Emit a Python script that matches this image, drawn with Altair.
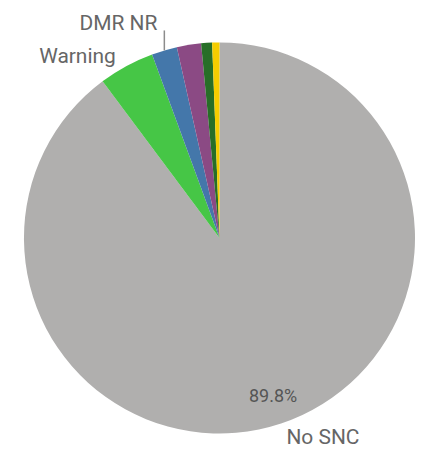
import altair as alt
import pandas as pd

categories = ["No SNC", "Warning", "DMR NR", "SNC", "RNC", "Undetermined"]
values = [89.8, 4.6, 2.1, 2.0, 0.9, 0.6]
colors = ["#b0afae", "#46c646", "#4477aa", "#8b4a84", "#276e27", "#f5cd00"]
order = list(range(len(categories)))

df = pd.DataFrame({"category": categories, "value": values, "ord": order})

CX, CY, R = 212, 230, 196
FONT = "Roboto"

pie = alt.Chart(df).mark_arc(radius=R, stroke=None).encode(
    theta=alt.Theta("value:Q", stack=True),
    order=alt.Order("ord:Q"),
    x=alt.value(CX), y=alt.value(CY),
    color=alt.Color("category:N", scale=alt.Scale(domain=categories, range=colors), legend=None),
)

# anchor points on the pie edge, computed from the data's cumulative angles
pos = alt.Chart(df).transform_joinaggregate(
    total="sum(value)"
).transform_window(
    cum="sum(value)", sort=[alt.SortField("ord")]
).transform_calculate(
    mid="(datum.cum - datum.value / 2) / datum.total * 2 * PI",
).transform_calculate(
    px=f"{CX} + {R} * sin(datum.mid)",
    py=f"{CY} - {R} * cos(datum.mid)",
    py2=f"{CY} - {R} * cos(datum.mid) - 20",
    pct="format(datum.value / datum.total * 100, '.1f') + '%'",
)


def label(cat, field, dx, dy, color="#666666", size=21):
    return pos.transform_filter(alt.datum.category == cat).mark_text(
        dx=dx, dy=dy, align="center", baseline="alphabetic",
        font=FONT, fontSize=size, color=color,
    ).encode(
        x=alt.X("px:Q", scale=None), y=alt.Y("py:Q", scale=None), text=f"{field}:N"
    )


lbl_pct = label("No SNC", "pct", -8, -22, color="#555555", size=18)
lbl_nosnc = label("No SNC", "category", 42, 21)
lbl_warn = label("Warning", "category", -49, -3)
lbl_dmr = label("DMR NR", "category", -46, -20)

leader = pos.transform_filter(alt.datum.category == "DMR NR").mark_rule(
    color="#8c8c8c", strokeWidth=1.5
).encode(
    x=alt.X("px:Q", scale=None), y=alt.Y("py:Q", scale=None), y2="py2:Q"
)

chart = alt.layer(pie, lbl_pct, lbl_nosnc, lbl_warn, lbl_dmr, leader).properties(
    width=407, height=438, padding=0
).configure_view(stroke=None)

chart.save("out.html", embed_options={"renderer": "svg", "actions": False})
